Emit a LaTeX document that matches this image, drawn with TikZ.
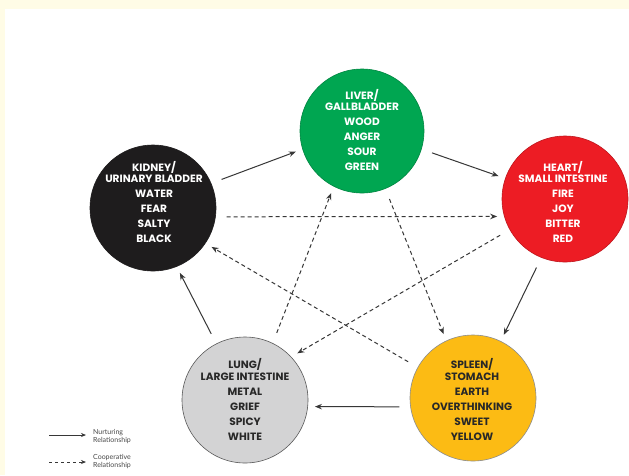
\documentclass[tikz,border=0pt]{standalone}
\usepackage{fontspec}
\setmainfont{Lato}
\newfontfamily\lblfont{Poppins}
\usetikzlibrary{arrows.meta}
\definecolor{cream}{RGB}{255,252,230}
\definecolor{livgreen}{RGB}{0,166,81}
\definecolor{kidblack}{RGB}{30,28,29}
\definecolor{heared}{RGB}{237,28,36}
\definecolor{lungray}{RGB}{211,211,212}
\definecolor{splyellow}{RGB}{252,187,20}
\definecolor{arrowgray}{RGB}{55,55,55}
\definecolor{darktext}{RGB}{40,40,40}
\begin{document}
\begin{tikzpicture}[x=1pt,y=-1pt,
  organ/.style={circle, minimum size=126pt, inner sep=0pt, line width=0.6pt},
  lbl/.style={align=center, font=\lblfont\bfseries\fontsize{10.6}{11.5}\selectfont, inner sep=0pt},
  nurt/.style={draw=arrowgray, line width=1pt, -{Stealth[length=7pt,width=5.5pt]}, shorten <=11pt, shorten >=7pt},
  coop/.style={nurt, dash pattern=on 4pt off 3pt},
  legline/.style={draw=arrowgray, line width=0.8pt, -{Stealth[length=5pt,width=4pt]}},
  legtxt/.style={align=left, font=\fontsize{7}{8.5}\selectfont, text=darktext!85, inner sep=0pt, anchor=west}]
\fill[white] (0,0) rectangle (629,475);
\fill[cream] (0,0) rectangle (629,9);
\fill[cream] (0,0) rectangle (5,475);
\useasboundingbox (0,0) rectangle (629,475);

% circles
\node[organ, fill=livgreen, draw=livgreen!80!black, minimum size=124pt] (liv) at (362,131) {};
\node[organ, fill=kidblack, draw=kidblack] (kid) at (153,208) {};
\node[organ, fill=heared, draw=heared!80!black] (hea) at (565,199) {};
\node[organ, fill=lungray, draw=black!65] (lun) at (245,400) {};
\node[organ, fill=splyellow, draw=black!45] (spl) at (473,398) {};

% texts
\node[lbl, text=white] (livt) at (362,130) {LIVER/\\GALLBLADDER\\[3.5pt]WOOD\\[3.5pt]ANGER\\[3.5pt]SOUR\\[3.5pt]GREEN};
\node[lbl, text=white] (kidt) at (154,202) {KIDNEY/\\URINARY BLADDER\\[3.5pt]WATER\\[3.5pt]FEAR\\[3.5pt]SALTY\\[3.5pt]BLACK};
\node[lbl, text=white] (heat) at (563,202) {HEART/\\SMALL INTESTINE\\[3.5pt]FIRE\\[3.5pt]JOY\\[3.5pt]BITTER\\[3.5pt]RED};
\node[lbl, text=darktext] (lunt) at (245,399.5) {LUNG/\\LARGE INTESTINE\\[3.5pt]METAL\\[3.5pt]GRIEF\\[3.5pt]SPICY\\[3.5pt]WHITE};
\node[lbl, text=darktext] (splt) at (472,399.5) {SPLEEN/\\STOMACH\\[3.5pt]EARTH\\[3.5pt]OVERTHINKING\\[3.5pt]SWEET\\[3.5pt]YELLOW};

% nurturing
\draw[nurt] (kid.23) -- (liv.197);
\draw[nurt] (liv.-17) -- (hea.161);
\draw[nurt] (hea.248) -- (spl.64);
\draw[nurt] (spl.188) -- (lun.-6);
\draw[nurt] (lun.117) -- (kid.-68);

% cooperative
\draw[coop] (kid.-8) -- (hea.196);
\draw[coop] (hea.209) -- (lun.43);
\draw[coop] (lun.64) -- (liv.243);
\draw[coop] (liv.-68) -- (spl.115);
\draw[coop] (spl.151) -- (kid.-34);

% legend
\coordinate (n1) at (49,435);
\coordinate (n2) at (86,435);
\draw[legline] (n1) -- (n2);
\node[legtxt] (nt) at (93,436.5) {Nurturing\\Relationship};
\coordinate (c1) at (49,462);
\coordinate (c2) at (86,462);
\draw[legline, dash pattern=on 3pt off 3pt] (c1) -- (c2);
\node[legtxt] (ct) at (93,461.5) {Cooperative\\Relationship};
\end{tikzpicture}
\end{document}
